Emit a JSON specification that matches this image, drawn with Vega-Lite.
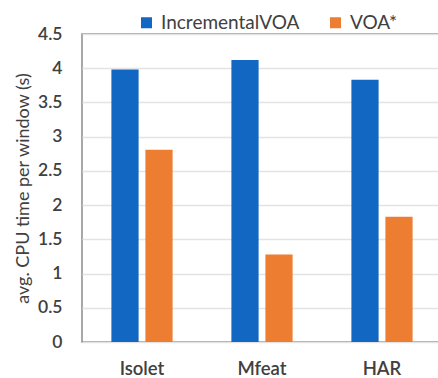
{
  "$schema": "https://vega.github.io/schema/vega-lite/v6.json",
  "autosize": "none",
  "width": 360,
  "height": 308,
  "padding": {"left": 82, "top": 34, "right": 0, "bottom": 36},
  "background": "white",
  "config": {
    "font": "Lato",
    "view": {"stroke": "#8c8c8c", "strokeWidth": 1.5}
  },
  "data": {
    "values": [
      {"dataset": "Isolet", "method": "IncrementalVOA", "time": 3.98},
      {"dataset": "Isolet", "method": "VOA*", "time": 2.81},
      {"dataset": "Mfeat", "method": "IncrementalVOA", "time": 4.12},
      {"dataset": "Mfeat", "method": "VOA*", "time": 1.28},
      {"dataset": "HAR", "method": "IncrementalVOA", "time": 3.83},
      {"dataset": "HAR", "method": "VOA*", "time": 1.83}
    ]
  },
  "mark": {"type": "bar"},
  "encoding": {
    "x": {
      "field": "dataset",
      "type": "nominal",
      "sort": ["Isolet", "Mfeat", "HAR"],
      "scale": {"paddingInner": 0.49, "paddingOuter": 0.245},
      "axis": {
        "title": null,
        "labelAngle": 0,
        "ticks": false,
        "domain": false,
        "labelFontSize": 18.5,
        "labelFontWeight": 600,
        "labelColor": "#404040",
        "labelPadding": 17
      }
    },
    "xOffset": {
      "field": "method",
      "type": "nominal",
      "sort": ["IncrementalVOA", "VOA*"],
      "scale": {"paddingInner": 0.2, "paddingOuter": 0}
    },
    "y": {
      "field": "time",
      "type": "quantitative",
      "scale": {"domain": [0, 4.5], "nice": false},
      "axis": {
        "title": "avg. CPU time per window (s)",
        "titleFontSize": 18,
        "titleFontWeight": "normal",
        "titleColor": "#404040",
        "titlePadding": 5,
        "values": [0, 0.5, 1, 1.5, 2, 2.5, 3, 3.5, 4, 4.5],
        "labelExpr": "datum.value",
        "ticks": false,
        "domain": false,
        "labelFontSize": 17.5,
        "labelFontWeight": 600,
        "labelColor": "#404040",
        "labelPadding": 20,
        "gridColor": "#e3e3e3",
        "gridWidth": 1.5
      }
    },
    "color": {
      "field": "method",
      "type": "nominal",
      "sort": ["IncrementalVOA", "VOA*"],
      "scale": {"domain": ["IncrementalVOA", "VOA*"], "range": ["#1167C1", "#ED7D31"]},
      "legend": {
        "title": null,
        "orient": "none",
        "legendX": 55,
        "legendY": -21,
        "direction": "horizontal",
        "symbolType": "square",
        "symbolSize": 121,
        "symbolStrokeWidth": 0,
        "labelFontSize": 19,
        "labelOffset": 5,
        "labelColor": "#404040",
        "columnPadding": 26
      }
    }
  }
}
